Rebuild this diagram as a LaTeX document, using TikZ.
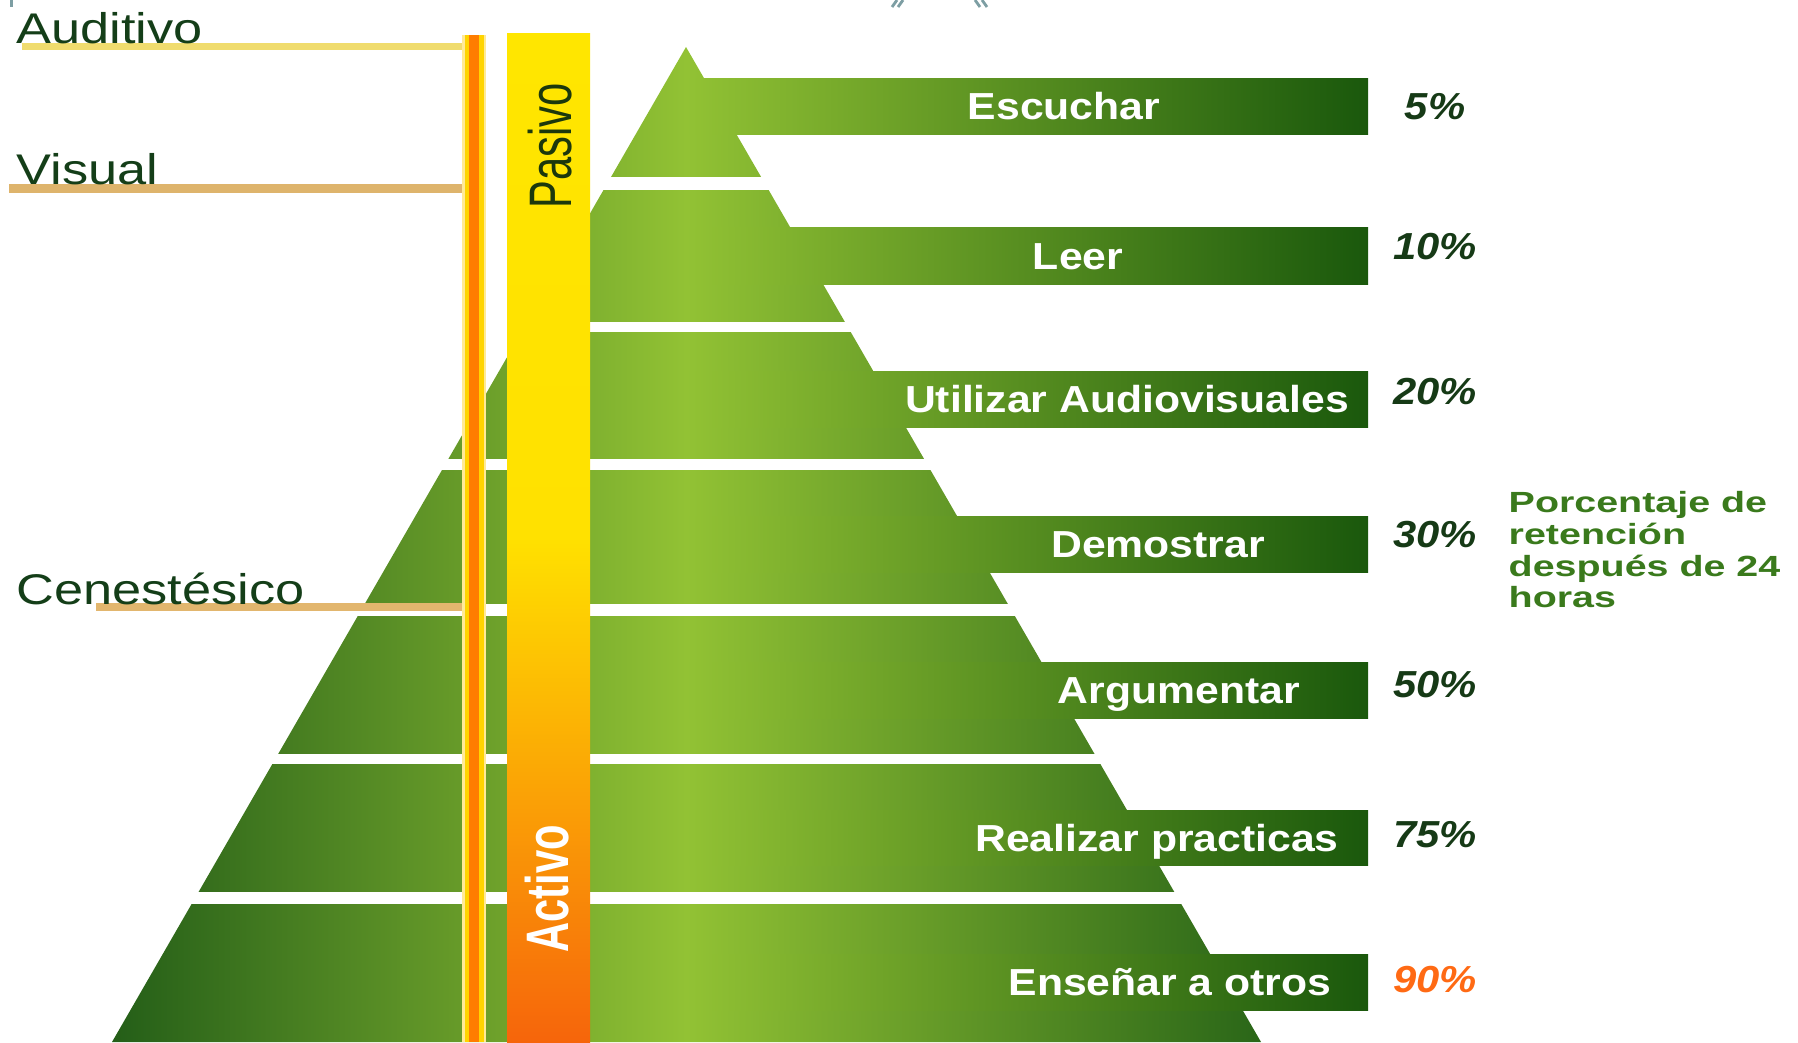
\documentclass[tikz,border=0pt]{standalone}
\usepackage{fontspec}
\usepackage{graphicx}
\setmainfont{Liberation Sans}
\newfontfamily\sidefont[FakeStretch=1.22]{Liberation Sans}
\newfontfamily\barfont[FakeStretch=1.135]{Liberation Sans}
\newfontfamily\pctfont[FakeStretch=1.11]{Liberation Sans}
\newfontfamily\notefont[FakeStretch=1.35]{Liberation Sans}
\usetikzlibrary{calc}
\definecolor{pyrdark}{RGB}{36,94,24}
\definecolor{pyrlight}{RGB}{146,194,52}
\definecolor{pyrright}{RGB}{42,102,24}
\definecolor{barlight}{RGB}{146,194,52}
\definecolor{bardark}{RGB}{26,88,12}
\definecolor{sidegreen}{RGB}{20,62,24}
\definecolor{pctgreen}{RGB}{22,58,22}
\definecolor{pctorange}{RGB}{255,106,20}
\definecolor{notegreen}{RGB}{58,122,28}
\definecolor{pasivotext}{RGB}{28,56,12}
\definecolor{audline}{RGB}{240,220,110}
\definecolor{visline}{RGB}{222,180,108}
\definecolor{cenline}{RGB}{226,182,110}
\definecolor{vpale}{RGB}{255,234,150}
\definecolor{vyellow}{RGB}{255,212,0}
\definecolor{vorange}{RGB}{255,125,0}
\definecolor{ytop}{RGB}{255,230,0}
\definecolor{ymid}{RGB}{255,225,0}
\definecolor{ybot}{RGB}{246,101,11}
\definecolor{tickgrey}{RGB}{125,158,163}

\begin{document}
\begin{tikzpicture}[x=0.01cm,y=-0.01cm,
    sidelabel/.style={anchor=base west,inner sep=0pt,text=sidegreen,
      font=\sidefont\fontsize{12.2}{14}\selectfont},
    barlabel/.style={anchor=base,inner sep=0pt,text=white,
      font=\barfont\bfseries\fontsize{10.7}{13}\selectfont},
    pctlabel/.style={anchor=base,inner sep=0pt,text=pctgreen,
      font=\pctfont\bfseries\itshape\fontsize{10.7}{13}\selectfont},
    collabel/.style={rotate=90,inner sep=0pt,font=\fontsize{11.85}{14}\selectfont},
    barfill/.style={left color=barlight,right color=bardark},
    gapfill/.style={fill=white},
    tickmark/.style={draw=tickgrey,line width=0.8pt}]
    \useasboundingbox (0,0) rectangle (1798,1042);
    \def\barleft{686}
    \def\barright{1368}
    \def\pctx{1435}
    % pyramid
    \shade[left color=pyrdark,right color=pyrright,middle color=pyrlight]
      (686,47) -- (1261,1042) -- (112,1042) -- cycle;
    \shade[barfill] (\barleft,78) rectangle (\barright,134);
    \shade[barfill] (\barleft,227) rectangle (\barright,284);
    \shade[barfill] (\barleft,371) rectangle (\barright,427);
    \shade[barfill] (\barleft,516) rectangle (\barright,572);
    \shade[barfill] (\barleft,662) rectangle (\barright,718);
    \shade[barfill] (\barleft,810) rectangle (\barright,865);
    \shade[barfill] (\barleft,954) rectangle (\barright,1010);
    \fill[gapfill] (100,177) rectangle (1280,190);
    \fill[gapfill] (100,322) rectangle (1280,332);
    \fill[gapfill] (100,459) rectangle (1280,470);
    \fill[gapfill] (100,604) rectangle (1280,616);
    \fill[gapfill] (100,754) rectangle (1280,764);
    \fill[gapfill] (100,892) rectangle (1280,904);
    % links to the vertical line
    \coordinate (vtop) at (474,35);
    \coordinate (vbot) at (474,1042);
    \coordinate (audL) at (22,46.5);
    \coordinate (visL) at (9,188.5);
    \coordinate (cenL) at (96,607);
    \draw[line width=2pt,draw=audline] (audL) -- (audL -| vtop);
    \draw[line width=2.4pt,draw=visline] (visL) -- (visL -| vtop);
    \draw[line width=2pt,draw=cenline] (cenL) -- (cenL -| vtop);
    \draw[line width=6.9pt,draw=vpale] (vtop) -- (vbot);
    \draw[line width=5.4pt,draw=vyellow] (vtop) -- (vbot);
    \draw[line width=2.8pt,draw=vorange] (vtop) -- (vbot);
    % pasivo / activo
    \shade[top color=ytop,bottom color=ybot,middle color=ymid] (507,33) rectangle (590,1042);
    \node[collabel,text=pasivotext] (pasivo) at (550,146) {\scalebox{1}[1.44]{Pasivo}};
    \node[collabel,text=white] (activo) at (547,889) {\scalebox{1}[1.44]{\bfseries Activo}};
    \node[sidelabel] (auditivo) at (16,43.3) {Auditivo};
    \node[sidelabel] (visual) at (16,184) {Visual};
    \node[sidelabel] (cenestesico) at (16,604) {Cenestésico};
    \node[barlabel] (escuchar) at (1064,119.5) {Escuchar};
    \node[barlabel] (leer) at (1078,269) {Leer};
    \node[barlabel] (audiovis) at (1127,412.5) {Utilizar Audiovisuales};
    \node[barlabel] (demostrar) at (1158,557.5) {Demostrar};
    \node[barlabel] (argumentar) at (1179,703.5) {Argumentar};
    \node[barlabel] (practicas) at (1157,851) {Realizar practicas};
    \node[barlabel] (ensenar) at (1170,995.5) {Enseñar a otros};
    \node[pctlabel] (p5) at (\pctx,119) {5\%};
    \node[pctlabel] (p10) at (\pctx,259) {10\%};
    \node[pctlabel] (p20) at (\pctx,404) {20\%};
    \node[pctlabel] (p30) at (\pctx,547) {30\%};
    \node[pctlabel] (p50) at (\pctx,697) {50\%};
    \node[pctlabel] (p75) at (\pctx,847) {75\%};
    \node[pctlabel,text=pctorange] (p90) at (\pctx,992.5) {90\%};
    \node[anchor=north west,inner sep=0pt,align=left,text=notegreen,
      font=\notefont\bfseries\fontsize{8.3}{9}\selectfont] (nota) at (1508,491)
      {Porcentaje de\\retención\\después de 24\\horas};
    % cut marks at the top edge
    \draw[tickmark] (11.5,0) -- (11.5,7);
    \draw[tickmark] (892,7) -- (897,0) (898,7) -- (903,0);
    \draw[tickmark] (975,0) -- (980,7) (982,0) -- (987,7);
  \end{tikzpicture}
\end{document}
